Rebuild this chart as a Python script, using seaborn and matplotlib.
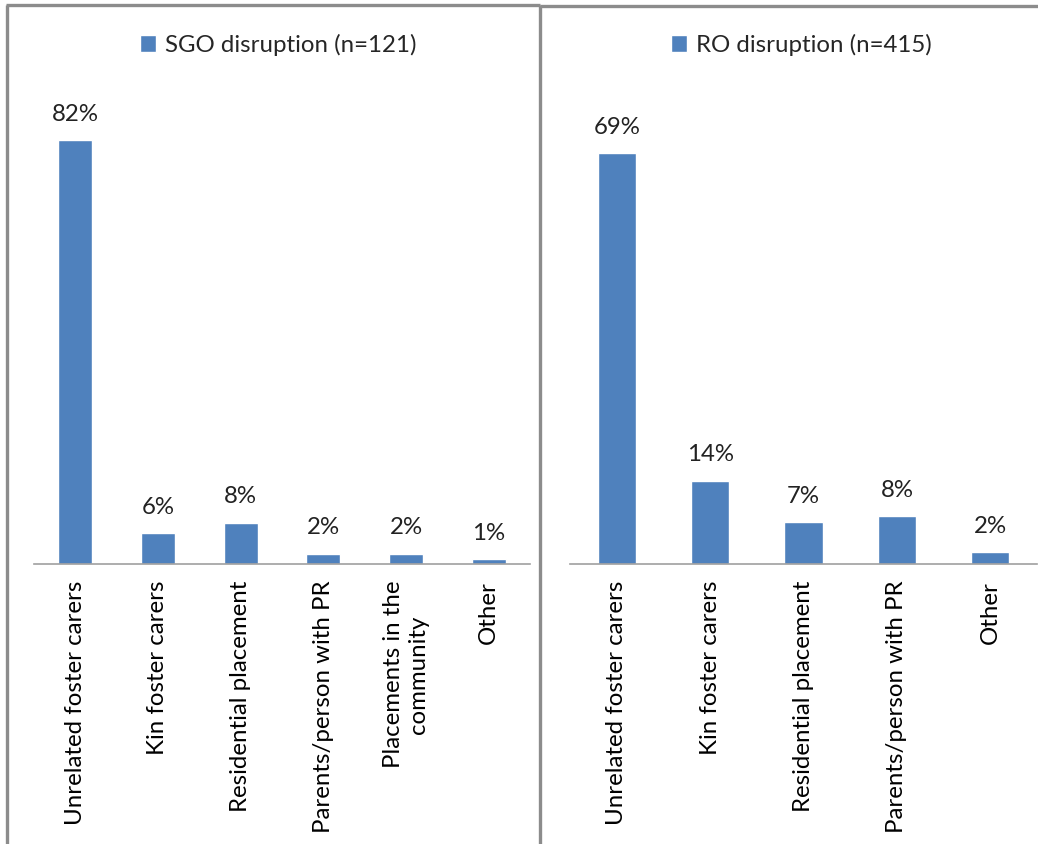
import matplotlib
matplotlib.use("Agg")
import matplotlib.pyplot as plt
import seaborn as sns
import pandas as pd
from matplotlib.lines import Line2D

sns.set_theme(style="white")
plt.rcParams['font.family'] = ['Lato', 'DejaVu Sans']

sgo_categories = ["Unrelated foster carers", "Kin foster carers", "Residential placement",
                  "Parents/person with PR", "Placements in the\ncommunity", "Other"]
sgo_values = [82, 6, 8, 2, 2, 1]
sgo_label = "SGO disruption (n=121)"

ro_categories = ["Unrelated foster carers", "Kin foster carers", "Residential placement",
                 "Parents/person with PR", "Other"]
ro_values = [69, 14, 7, 8, 2]
ro_label = "RO disruption (n=415)"

W, H = 1038, 844
fig = plt.figure(figsize=(W / 100, H / 100), dpi=100)

BAR = "#4F81BD"
FS = 17.3

def px_axes(x0, x1, ytop, ybot):
    return fig.add_axes([x0 / W, (H - ybot) / H, (x1 - x0) / W, (ybot - ytop) / H])

ax1 = px_axes(34, 530, 99, 564)
ax2 = px_axes(570, 1037, 87.4, 564)

for ax, cats, vals, lab, ymax, lx in [
    (ax1, sgo_categories, sgo_values, sgo_label, 90, 278),
    (ax2, ro_categories, ro_values, ro_label, 80, 801),
]:
    df = pd.DataFrame({"cat": cats, "val": vals})
    sns.barplot(data=df, x="cat", y="val", color=BAR, width=0.41, ax=ax,
                label=lab, saturation=1)
    ax.set_ylim(0, ymax)
    ax.set_xlabel("")
    ax.set_ylabel("")
    ax.set_yticks([])
    for s in ["left", "right", "top"]:
        ax.spines[s].set_visible(False)
    ax.spines["bottom"].set_color("#A0A0A0")
    ax.spines["bottom"].set_linewidth(1.2)
    ax.tick_params(axis="x", length=0, pad=12, labelsize=FS, labelcolor="black")
    plt.setp(ax.get_xticklabels(), rotation=90, ha="center", va="top", multialignment="center")
    ax.bar_label(ax.containers[0], labels=[f"{v}%" for v in vals], padding=11,
                 fontsize=FS, color="#222222")
    ax.legend(loc="center", bbox_to_anchor=(lx / W, (H - 45) / H),
              bbox_transform=fig.transFigure, frameon=False, fontsize=FS,
              handlelength=0.7, handleheight=0.7, handletextpad=0.35)

# panel borders
gray = "#8C8C8C"
lw = 2.4
def fline(xs, ys):
    fig.add_artist(Line2D([x / W for x in xs], [(H - y) / H for y in ys],
                          transform=fig.transFigure, color=gray, linewidth=lw,
                          solid_capstyle="butt"))
fline([7, 7], [4.5, H])
fline([6, 540], [4.5, 4.5])
fline([540, 540], [4.5, H])
fline([540, W], [5.5, 5.5])

fig.savefig("out.png", dpi=100, facecolor="white")
